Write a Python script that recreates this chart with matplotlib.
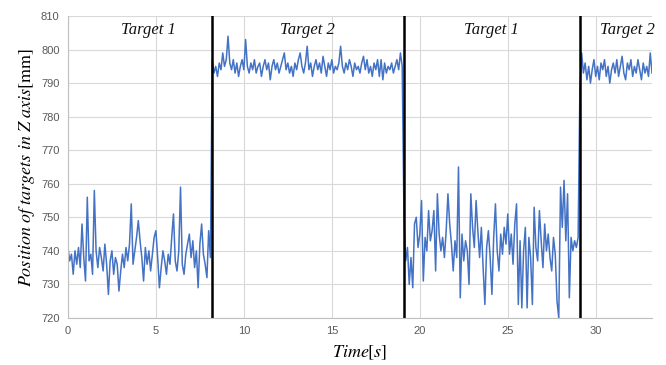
import numpy as np
import matplotlib
matplotlib.use("Agg")
import matplotlib.pyplot as plt

plt.rcParams["mathtext.fontset"] = "stix"

DT = 0.1  # sampling step [s]

# Z position of the tracked target, one list per target phase
z_target1_a = [741, 737, 739, 733, 740, 736, 741, 735, 748, 738,
               731, 756, 737, 739, 733, 758, 740, 735, 741, 738,
               734, 742, 736, 727, 737, 740, 733, 738, 736, 728,
               734, 739, 735, 741, 737, 742, 754, 736, 740, 744,
               749, 743, 738, 731, 741, 736, 740, 734, 739, 744,
               746, 738, 729, 735, 740, 737, 733, 739, 736, 744,
               751, 737, 734, 740, 759, 736, 733, 739, 742, 745,
               738, 743, 735, 740, 729, 742, 748, 739, 736, 732,
               746, 738]
z_target2_a = [797, 793, 795, 792, 796, 794, 799, 795, 797, 804,
               796, 794, 797, 793, 796, 792, 795, 797, 794, 803,
               795, 793, 796, 794, 797, 793, 795, 796, 792, 795,
               797, 794, 796, 791, 795, 797, 794, 796, 793, 795,
               797, 799, 794, 796, 793, 795, 792, 796, 794, 797,
               799, 795, 793, 796, 801, 794, 796, 792, 795, 797,
               794, 796, 793, 798, 795, 792, 796, 794, 797, 793,
               795, 794, 796, 801, 795, 793, 796, 794, 797, 795,
               792, 796, 794, 795, 793, 796, 798, 794, 797, 793,
               795, 792, 796, 794, 797, 792, 797, 791, 796, 793,
               795, 794, 796, 793, 795, 797, 794, 799, 795]
z_target1_b = [751, 737, 741, 730, 738, 729, 748, 750, 741, 745,
               755, 731, 744, 740, 752, 743, 746, 752, 734, 757,
               745, 740, 744, 738, 746, 757, 748, 742, 734, 743,
               738, 765, 726, 745, 737, 743, 740, 730, 757, 747,
               741, 755, 746, 738, 747, 735, 724, 741, 746, 738,
               727, 744, 754, 740, 734, 745, 739, 747, 742, 751,
               739, 745, 736, 748, 754, 724, 743, 723, 740, 747,
               723, 744, 738, 724, 753, 741, 737, 752, 743, 735,
               748, 740, 745, 738, 734, 744, 739, 725, 720, 759,
               747, 761, 743, 757, 726, 744, 740, 743, 741, 744]
z_target2_b = [788, 799, 793, 796, 791, 795, 790, 794, 797, 792,
               795, 791, 796, 794, 797, 792, 795, 790, 794, 796,
               793, 797, 792, 795, 798, 793, 791, 796, 794, 797,
               792, 795, 793, 797, 794, 791, 796, 793, 795, 792,
               799, 793]

switch_times = [8.18, 19.08, 29.08]
phase_labels = ["Target 1", "Target 2", "Target 1", "Target 2"]
label_x = [4.55, 13.6, 24.1, 31.8]

z = np.array(z_target1_a + z_target2_a + z_target1_b + z_target2_b, dtype=float)
t = DT * np.arange(len(z))

fig, ax = plt.subplots(figsize=(6.66, 3.65), dpi=100)
fig.subplots_adjust(left=0.102, right=0.979, top=0.956, bottom=0.129)

ax.plot(t, z, color="#4472C4", lw=1.1)
for ts in switch_times:
    ax.axvline(ts, color="black", lw=1.8)

for x, s in zip(label_x, phase_labels):
    ax.text(x, 805.8, s, ha="center", va="center", fontsize=12,
            family="Liberation Serif", style="italic", color="#111111")

ax.set_xlim(0, 33.2)
ax.set_ylim(720, 810)
ax.set_xticks(np.arange(0, 31, 5))
ax.set_yticks(np.arange(720, 811, 10))
ax.grid(True, color="#d9d9d9", lw=0.8)
ax.set_axisbelow(True)
for side in ("top", "right"):
    ax.spines[side].set_visible(False)
for side in ("left", "bottom"):
    ax.spines[side].set_color("#bfbfbf")
ax.tick_params(length=0, labelsize=8, labelcolor="#595959", pad=6)
for lab in ax.get_xticklabels() + ax.get_yticklabels():
    lab.set_family("Liberation Sans")

ax.set_ylabel(r"$Position\ of\ targets\ in\ Z\ axis[\mathrm{mm}]$", fontsize=13, labelpad=3)
ax.set_xlabel(r"$Time[s]$", fontsize=13, labelpad=5)

fig.savefig("out.png", dpi=100)
